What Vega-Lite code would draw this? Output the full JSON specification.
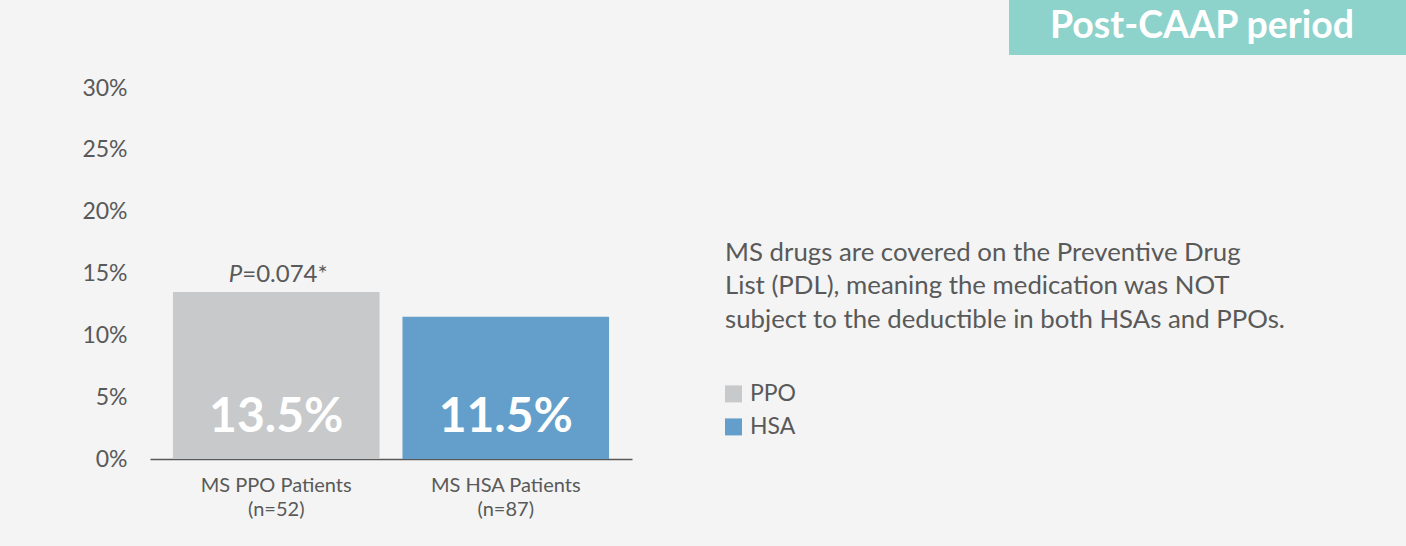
{
  "$schema": "https://vega.github.io/schema/vega-lite/v6.json",
  "width": 482,
  "height": 371,
  "autosize": "none",
  "padding": {"left": 150, "top": 88, "right": 774, "bottom": 87},
  "background": "#f3f4f3",
  "config": {
    "view": {"stroke": null},
    "font": "Lato"
  },
  "title": {
    "text": "Post-CAAP period",
    "anchor": "start",
    "frame": "group",
    "dx": 900,
    "dy": 75,
    "offset": 0,
    "baseline": "alphabetic",
    "fontSize": 37.5,
    "fontWeight": "bold",
    "color": "#ffffff",
    "font": "Lato"
  },
  "data": {
    "values": [
      {"group": "MS PPO Patients|(n=52)", "plan": "PPO", "rate": 13.5, "label": "13.5%", "p_note": "=0.074*"},
      {"group": "MS HSA Patients|(n=87)", "plan": "HSA", "rate": 11.5, "label": "11.5%", "p_note": null}
    ]
  },
  "layer": [
    {
      "mark": {"type": "bar"},
      "encoding": {
        "x": {
          "field": "group", "type": "nominal", "sort": null,
          "scale": {"paddingInner": 0.1, "paddingOuter": 0.1},
          "axis": {
            "title": null, "labelAngle": 0, "labelExpr": "split(datum.value, '|')",
            "ticks": false, "domainColor": "#595959", "domainWidth": 1.5,
            "labelFontSize": 20, "labelColor": "#595959", "labelPadding": 16,
            "labelLineHeight": 24, "labelLimit": 0, "labelFont": "Lato"
          }
        },
        "y": {
          "field": "rate", "type": "quantitative", "title": null,
          "scale": {"domain": [0, 30]},
          "axis": {
            "values": [0, 5, 10, 15, 20, 25, 30], "labelExpr": "datum.value + '%'",
            "domain": false, "ticks": false, "grid": false,
            "labelFontSize": 23, "labelColor": "#595959", "labelPadding": 23, "labelFont": "Lato"
          }
        },
        "color": {
          "field": "plan", "type": "nominal",
          "scale": {"domain": ["PPO", "HSA"], "range": ["#c8c9cb", "#639fca"]},
          "legend": {
            "orient": "none", "legendX": 575, "legendY": 153, "padding": 0,
            "title": ["MS drugs are covered on the Preventive Drug", "List (PDL), meaning the medication was NOT", "subject to the deductible in both HSAs and PPOs."],
            "titleFont": "Lato", "titleFontSize": 25.8, "titleFontWeight": "normal", "titleColor": "#595959",
            "titleLineHeight": 33.3, "titleLimit": 2000, "titlePadding": 49,
            "symbolType": "square", "symbolSize": 289, "symbolStrokeWidth": 0, "symbolOpacity": 1, "symbolOffset": -3,
            "labelFont": "Lato", "labelFontSize": 23, "labelColor": "#595959", "labelOffset": 5, "rowPadding": 9
          }
        }
      }
    },
    {
      "mark": {"type": "text", "color": "#ffffff", "fontSize": 48, "fontWeight": "bold", "baseline": "alphabetic", "dy": -27, "font": "Lato"},
      "encoding": {
        "x": {"field": "group", "type": "nominal", "sort": null},
        "y": {"datum": 0, "type": "quantitative", "title": null},
        "text": {"field": "label"}
      }
    },
    {
      "transform": [{"filter": "datum.p_note != null"}],
      "mark": {"type": "text", "fontStyle": "italic", "align": "right", "dx": -34, "dy": -10, "fontSize": 24, "color": "#595959", "baseline": "alphabetic", "font": "Lato"},
      "encoding": {
        "x": {"field": "group", "type": "nominal", "sort": null},
        "y": {"field": "rate", "type": "quantitative", "title": null},
        "text": {"value": "P"}
      }
    },
    {
      "transform": [{"filter": "datum.p_note != null"}],
      "mark": {"type": "text", "align": "left", "dx": -34, "dy": -10, "fontSize": 24, "color": "#595959", "baseline": "alphabetic", "font": "Lato"},
      "encoding": {
        "x": {"field": "group", "type": "nominal", "sort": null},
        "y": {"field": "rate", "type": "quantitative", "title": null},
        "text": {"field": "p_note"}
      }
    },
    {
      "data": {"values": [{"period": "Post-CAAP period"}]},
      "mark": {"type": "point", "opacity": 0},
      "encoding": {
        "shape": {
          "field": "period", "type": "nominal",
          "legend": {
            "orient": "none", "legendX": 859, "legendY": -88, "padding": 0,
            "title": null, "fillColor": "#8dd3cc",
            "symbolSize": 3025, "symbolOpacity": 0, "symbolStrokeWidth": 0,
            "labelOpacity": 0, "labelExpr": "''", "labelOffset": 400, "labelFontSize": 1
          }
        },
        "strokeDash": {
          "field": "period", "type": "nominal",
          "legend": {
            "orient": "none", "legendX": -150, "legendY": -88, "padding": 0,
            "title": null, "fillColor": "#ffffff",
            "symbolSize": 169, "symbolOpacity": 0, "symbolStrokeWidth": 0, "symbolType": "square",
            "labelOpacity": 0, "labelExpr": "''", "labelOffset": 996, "labelFontSize": 1
          }
        }
      }
    }
  ]
}
